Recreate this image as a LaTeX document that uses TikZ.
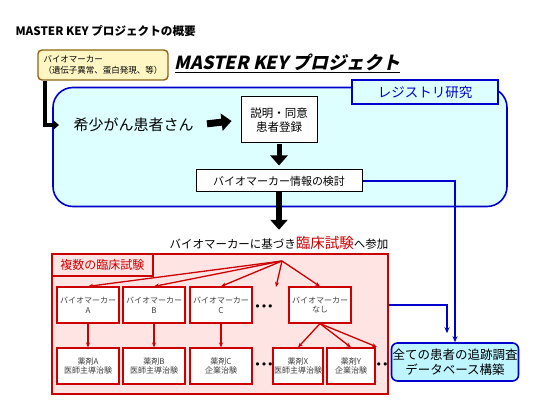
\documentclass[tikz,border=0pt]{standalone}
\usepackage{fontspec}
\setmainfont{Noto Sans CJK JP}
\newfontfamily\projfont[FakeSlant=0.22]{Noto Sans CJK JP}
\newfontfamily\dotfont{DejaVu Sans}
\usetikzlibrary{arrows.meta}

\definecolor{regfill}{RGB}{221,255,255}
\definecolor{regblue}{RGB}{0,0,204}
\definecolor{dbfill}{RGB}{190,245,255}
\definecolor{bmfill}{RGB}{255,246,196}
\definecolor{bmedge}{RGB}{140,100,20}
\definecolor{trialfill}{RGB}{255,228,228}
\definecolor{trialred}{RGB}{204,0,0}

\tikzset{
  sizept/.code={\pgfmathsetmacro\lineskp{#1*1.2}%
    \edef\tmpfont{\noexpand\tikzset{font=\noexpand\fontsize{#1}{\lineskp}\noexpand\selectfont}}\tmpfont},
  whitebox/.style={draw, fill=white, line width=1, align=center, inner sep=1},
  bmbox/.style={whitebox, draw=trialred, line width=1.2, minimum width=62, minimum height=36,
    text=black!75, sizept=8},
  dots/.style={font=\dotfont\fontsize{11}{12}\selectfont, inner sep=0},
  bigarrow/.style={line width=6, -{Triangle[length=10pt,width=17pt]}},
  redarrow/.style={draw=trialred, line width=1.3, -{Stealth[length=5pt,width=4pt]}},
  bluearrow/.style={draw=regblue, line width=1.6, -{Stealth[length=6pt,width=5pt]}},
}

\begin{document}
\begin{tikzpicture}[x=1pt, y=-1pt]
	\useasboundingbox (0,0) rectangle (550,412);

	\node[anchor=west, font=\fontsize{11.6}{13}\selectfont\bfseries] (title) at (12,31) {MASTER KEY プロジェクトの概要};

	% registry study
	\node[draw=regblue, line width=1.6, fill=regfill, rounded corners=20,
		minimum width=454, minimum height=119] (reg) at (280,147) {};
	\node[draw=regblue, line width=1.6, fill=regfill, text=regblue, sizept=13.5,
		minimum width=146, minimum height=24] (regl) at (425,92) {レジストリ研究};

	\node[draw=bmedge, line width=1.4, fill=bmfill, rounded corners=4, align=left,
		sizept=8.5, inner sep=2, minimum width=130, minimum height=30] (marker) at (103,65)
		{バイオマーカー\\（遺伝子異常、蛋白発現、等）};
	\node[anchor=west, font=\fontsize{18}{21}\selectfont] (proj) at (171,63) {\projfont\bfseries\underline{MASTER KEY プロジェクト}};

	\node[anchor=west, sizept=15] (pat) at (70,125) {希少がん患者さん};
	\node[whitebox, sizept=11.5, minimum width=76, minimum height=46] (cons) at (279,120) {説明・同意\\患者登録};
	\node[whitebox, sizept=11, minimum width=166, minimum height=22] (check) at (279,181) {バイオマーカー情報の検討};
	\coordinate (regin) at (59,125);

	\draw[line width=4, -{Triangle[length=6pt,width=10pt]}] ([xshift=-58]marker.south) |- (regin);
	\draw[bigarrow, line width=7, shorten <=10, shorten >=9] (pat.east) -- (cons.west);
	\draw[bigarrow, line width=5, shorten <=1, shorten >=4] (cons.south) -- (check.north);

	% clinical trials
	\node[sizept=11.5] (join) at (279,243) {バイオマーカーに基づき{\color{trialred}\fontsize{14.5}{15}\selectfont 臨床試験}へ参加};
	\draw[bigarrow, shorten >=3] (check.south) -- (join.north);

	\node[draw=trialred, line width=1.6, fill=trialfill, minimum width=336, minimum height=140] (trial) at (220,324) {};
	\node[draw=trialred, line width=1.4, fill=trialfill, text=trialred, sizept=12, anchor=north west,
		minimum width=101, minimum height=22] (triall) at (trial.north west) {複数の臨床試験};

	\coordinate (hub) at (282,261);
	\node[bmbox] (bmA) at (88,305) {バイオマーカー\\A};
	\node[bmbox] (bmB) at (154,305) {バイオマーカー\\B};
	\node[bmbox] (bmC) at (221,305) {バイオマーカー\\C};
	\node[bmbox] (bmN) at (320,305) {バイオマーカー\\なし};
	\node[dots] (dotsA) at (264,308) {•••};
	\coordinate (moreA) at (276,287);

	\node[bmbox] (drA) at (88,366) {薬剤A\\医師主導治験};
	\node[bmbox] (drB) at (154,366) {薬剤B\\医師主導治験};
	\node[bmbox] (drC) at (221,366) {薬剤C\\企業治験};
	\node[bmbox, minimum width=49] (drX) at (298,366) {薬剤X\\医師主導治験};
	\node[bmbox, minimum width=48] (drY) at (351,366) {薬剤Y\\企業治験};
	\node[dots] (dotsB) at (264,366) {•••};
	\node[dots] (dotsC) at (382,366) {••};
	\coordinate (moreB) at (377,347);

	\draw[redarrow] (hub) to (bmA.north);
	\draw[redarrow] (hub) to (bmB.north);
	\draw[redarrow] (hub) to (bmC.north);
	\draw[redarrow] (hub) to (moreA);
	\draw[redarrow] (hub) to (bmN.north);
	\draw[redarrow] (bmA) to (drA);
	\draw[redarrow] (bmB) to (drB);
	\draw[redarrow] (bmC) to (drC);
	\draw[redarrow] (bmN.south) to (drX.north);
	\draw[redarrow] (bmN.south) to (drY.north);
	\draw[redarrow] (bmN.south) to (moreB);

	% follow-up database
	\node[draw=regblue, line width=1.6, fill=dbfill, rounded corners=6, align=center, sizept=12.5,
		inner sep=1, minimum width=124, minimum height=38] (db) at (455,362) {全ての患者の追跡調査\\データベース構築};
	\draw[bluearrow] (check.east) -| (db.north);
	\draw[bluearrow, shorten >=9] ([yshift=19]trial.east) -| ([xshift=-8]db.north);
\end{tikzpicture}
\end{document}
